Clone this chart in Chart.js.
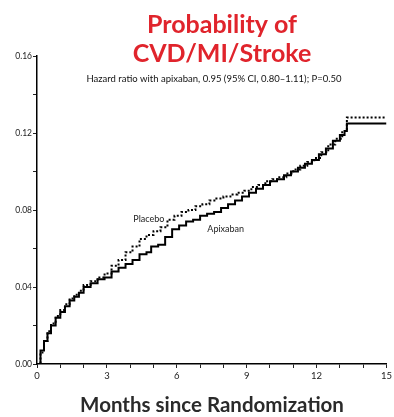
<!DOCTYPE html>
<html>
<head>
<meta charset="utf-8">
<script src="https://cdn.jsdelivr.net/npm/chart.js@4.4.1/dist/chart.umd.min.js"></script>
<style>
  html, body { margin: 0; padding: 0; background: #fff; }
  #wrap { position: relative; width: 394px; height: 417px; }
</style>
</head>
<body>
<div id="wrap"><canvas id="c" width="394" height="417"></canvas></div>
<script>
// ---- Data ----
const months_placebo = [0,0.15,0.3,0.45,0.6,0.8,1.0,1.2,1.4,1.6,1.8,2.0,2.3,2.6,2.9,3.2,3.5,3.8,4.1,4.4,4.7,5.0,5.3,5.6,5.9,6.2,6.5,6.8,7.1,7.4,7.7,8.0,8.3,8.6,8.9,9.2,9.5,9.8,10.1,10.4,10.7,11.0,11.3,11.6,11.9,12.2,12.5,12.8,13.1,13.3,15];
const prob_placebo = [0,0.006,0.012,0.017,0.021,0.025,0.028,0.031,0.034,0.036,0.038,0.041,0.043,0.045,0.047,0.051,0.054,0.058,0.061,0.065,0.067,0.069,0.071,0.075,0.077,0.079,0.080,0.082,0.083,0.085,0.086,0.087,0.088,0.089,0.090,0.092,0.093,0.095,0.096,0.097,0.099,0.101,0.103,0.105,0.107,0.110,0.114,0.117,0.121,0.128,0.128];
const months_apixaban = [0,0.15,0.3,0.45,0.6,0.8,1.0,1.2,1.4,1.6,1.8,2.0,2.3,2.6,2.9,3.2,3.5,3.8,4.1,4.4,4.7,4.9,5.2,5.5,5.8,6.1,6.4,6.7,7.0,7.3,7.6,7.9,8.2,8.5,8.8,9.1,9.4,9.7,10.0,10.3,10.6,10.9,11.2,11.5,11.8,12.1,12.4,12.7,13.0,13.2,13.3,15];
const prob_apixaban = [0,0.007,0.012,0.016,0.020,0.024,0.027,0.030,0.033,0.035,0.037,0.040,0.042,0.044,0.045,0.048,0.050,0.052,0.054,0.057,0.058,0.061,0.062,0.066,0.070,0.072,0.074,0.075,0.077,0.078,0.079,0.081,0.083,0.085,0.087,0.089,0.091,0.093,0.095,0.096,0.098,0.100,0.102,0.104,0.106,0.109,0.112,0.116,0.119,0.121,0.125,0.125];
const seriesNames = ["Placebo", "Apixaban"];
const yTickValues = [0, 0.04, 0.08, 0.12, 0.16];
const xTickValues = [0, 3, 6, 9, 12, 15];
const titleLines = ["Probability of", "CVD/MI/Stroke"];
const subtitleText = "Hazard ratio with apixaban, 0.95 (95% CI, 0.80\u20131.11); P=0.50";
const xAxisTitle = "Months since Randomization";

// in-plot series labels, anchored in data units
const seriesLabelAnchors = [ {x: 4.8, y: 0.0755}, {x: 8.1, y: 0.070} ];

const toPts = (xs, ys) => xs.map((x, i) => ({x: x, y: ys[i]}));

const textPlugin = {
  id: 'texts',
  afterDraw(chart) {
    const ctx = chart.ctx;
    const xs = chart.scales.x, ys = chart.scales.y;
    ctx.save();
    ctx.textAlign = 'center';
    ctx.textBaseline = 'alphabetic';
    // title
    ctx.fillStyle = '#e0242c';
    ctx.font = 'bold 25px Lato';
    ctx.fillText(titleLines[0], 222, 33);
    ctx.fillText(titleLines[1], 222, 62);
    // subtitle
    ctx.fillStyle = '#111';
    ctx.font = '9.5px Lato';
    ctx.fillText(subtitleText, 214, 82);
    // x axis title
    ctx.fillStyle = '#2a2a2a';
    ctx.font = 'bold 20.5px Lato';
    ctx.fillText(xAxisTitle, 212, 412);
    // series labels
    ctx.fillStyle = '#222';
    ctx.font = '9px Lato';
    ctx.textBaseline = 'middle';
    seriesNames.forEach((n, i) => {
      const a = seriesLabelAnchors[i];
      ctx.fillText(n, xs.getPixelForValue(a.x), ys.getPixelForValue(a.y));
    });
    ctx.restore();
  }
};

new Chart(document.getElementById('c'), {
  type: 'line',
  data: {
    datasets: [
      {
        label: seriesNames[0],
        data: toPts(months_placebo, prob_placebo),
        borderColor: '#000',
        borderWidth: 2,
        borderDash: [2, 2],
        stepped: true,
        pointRadius: 0,
        fill: false
      },
      {
        label: seriesNames[1],
        data: toPts(months_apixaban, prob_apixaban),
        borderColor: '#000',
        borderWidth: 2,
        stepped: true,
        pointRadius: 0,
        fill: false
      }
    ]
  },
  options: {
    responsive: false,
    animation: false,
    layout: { padding: { top: 56, right: 6, left: 0, bottom: 0 } },
    plugins: { legend: { display: false }, tooltip: { enabled: false }, title: { display: false } },
    scales: {
      x: {
        type: 'linear',
        min: 0, max: 15,
        afterFit(s) { s.height = 53; },
        ticks: {
          stepSize: 1,
          autoSkip: false,
          maxRotation: 0,
          padding: 2,
          color: '#222',
          font: { family: 'Lato', size: 9.5 },
          callback: (v) => xTickValues.includes(v) ? String(v) : ''
        },
        grid: { drawOnChartArea: false, tickLength: 4, color: '#000', tickColor: '#222' },
        border: { color: '#000', width: 1.5 }
      },
      y: {
        type: 'linear',
        min: 0, max: 0.16,
        afterFit(s) { s.width = 37; },
        ticks: {
          stepSize: 0.02,
          autoSkip: false,
          padding: 1,
          color: '#222',
          font: { family: 'Lato', size: 8.5 },
          callback: (v) => yTickValues.some(t => Math.abs(t - v) < 1e-9) ? v.toFixed(2) : ''
        },
        grid: { drawOnChartArea: false, tickLength: 4, color: '#000', tickColor: '#222' },
        border: { color: '#000', width: 1.5 }
      }
    }
  },
  plugins: [textPlugin]
});
</script>
</body>
</html>
